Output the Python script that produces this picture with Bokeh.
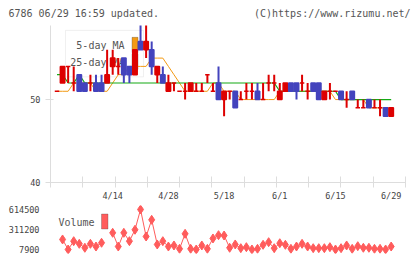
import numpy as np
from bokeh.plotting import figure
from bokeh.layouts import column, row
from bokeh.models import Range1d, FixedTicker, Label, BoxAnnotation, ColumnDataSource, BasicTickFormatter
from bokeh.embed import file_html
from bokeh.resources import INLINE

# ---------------- data ----------------
dates = ["3/31", "4/1", "4/4", "4/5", "4/6", "4/7", "4/8", "4/11", "4/12", "4/13",
         "4/14", "4/15", "4/18", "4/19", "4/20", "4/21", "4/22", "4/25", "4/26", "4/27",
         "4/28", "5/2", "5/6", "5/9", "5/10", "5/11", "5/12", "5/13", "5/16", "5/17",
         "5/18", "5/19", "5/20", "5/23", "5/24", "5/25", "5/26", "5/27", "5/30", "5/31",
         "6/1", "6/2", "6/3", "6/6", "6/7", "6/8", "6/9", "6/10", "6/13", "6/14",
         "6/15", "6/16", "6/17", "6/20", "6/21", "6/22", "6/23", "6/24", "6/27", "6/28",
         "6/29"]
opens = [51, 52, 54, 52, 53, 52, 52, 52, 52, 52,
         54, 54, 55, 54, 53, 57, 56, 56, 53, 53,
         51, 52, 51, 51, 51, 51, 51, 53, 51, 52,
         50, 51, 51, 50, 51, 51, 51, 50, 52, 52,
         50, 51, 52, 52, 52, 51, 52, 52, 50, 51,
         51, 51, 50, 51, 49, 49, 50, 49, 49, 49,
         48]
highs = [51, 54, 54, 54, 53, 52, 53, 53, 53, 56,
         56, 55, 55, 54, 56, 59, 59, 57, 54, 54,
         53, 52, 51, 52, 52, 52, 52, 53, 52, 54,
         51, 51, 51, 51, 52, 52, 52, 52, 53, 53,
         52, 52, 52, 52, 53, 52, 52, 52, 51, 52,
         51, 51, 51, 51, 50, 50, 50, 50, 50, 49,
         49]
lows = [51, 52, 52, 51, 51, 51, 51, 51, 51, 52,
        53, 53, 52, 52, 53, 56, 55, 53, 52, 52,
        51, 51, 51, 50, 51, 51, 51, 52, 51, 50,
        48, 50, 49, 50, 50, 50, 50, 50, 51, 51,
        50, 51, 51, 50, 51, 50, 51, 50, 50, 50,
        51, 50, 49, 50, 49, 49, 49, 49, 48, 48,
        48]
closes = [51, 54, 54, 52, 51, 51, 52, 51, 51, 53,
          55, 54, 53, 53, 56, 56, 57, 54, 54, 52,
          52, 52, 51, 51, 52, 51, 51, 53, 51, 50,
          51, 51, 49, 50, 51, 51, 50, 50, 52, 52,
          51, 52, 51, 51, 52, 51, 51, 50, 51, 51,
          51, 50, 50, 50, 49, 49, 49, 49, 49, 48,
          49]
ma5 = [51, 51, 51, 52, 52, 52, 52, 51, 51, 51,
       52, 53, 53, 54, 54, 54, 54, 55, 55, 55,
       54, 53, 52, 51, 51, 51, 51, 51, 52, 52,
       51, 51, 51, 50, 50, 50, 50, 50, 50, 50,
       51, 51, 51, 51, 51, 51, 51, 51, 51, 51,
       50, 50, 50, 50, 50, 50, 49, 49, 49, 49,
       49]
ma25 = [53, 53, 52, 52, 53, 52, 52, 52, 52, 52,
        52, 52, 52, 52, 52, 52, 52, 52, 52, 52,
        52, 52, 52, 52, 52, 52, 52, 52, 52, 52,
        52, 52, 52, 52, 52, 52, 52, 52, 52, 52,
        51, 51, 51, 51, 51, 51, 51, 51, 51, 51,
        51, 50, 50, 50, 50, 50, 50, 50, 50, 50,
        50]
volume = [np.nan, 160000, 7900, 134000, 94000, 34000, 94000, 53000, 110000, np.nan,
          261000, 53000, 261000, 134000, 307000, 614500, 205000, 458000, 84000, 134000,
          53000, 69000, 18000, 246000, 18000, 8000, 69000, 18000, 175000, 225000,
          220000, 34000, 84000, 28000, 43000, 8000, 18000, 79000, 119000, 28000,
          103000, 79000, 18000, 53000, 94000, 53000, 28000, 28000, 28000, 43000,
          8000, 28000, 69000, 18000, 58000, 34000, 34000, 18000, 18000, 8000,
          53000]
date_tick_labels = ["4/14", "4/28", "5/18", "6/1", "6/15", "6/29"]
price_ticks = [40, 50]
volume_ticks = [7900, 311200, 614500]

# ---------------- styles ----------------
FONT = "DejaVu Sans Mono"
RED = "#dd0000"
BLUE = "#4343bd"
ORANGE = "#f39a14"
GREEN = "#14aa14"
VOLC = "#ff5c5c"
GRID = "#dddddd"
TXT = "#555555"

n = len(dates)
idx = np.arange(n)
o = np.array(opens, float); c = np.array(closes, float)
colors = [RED if c[i] >= o[i] else BLUE for i in range(n)]
src = ColumnDataSource(dict(x=idx, o=o, c=c, h=highs, l=lows,
                            top=np.maximum(o, c), bot=np.minimum(o, c), col=colors,
                            ma5=ma5, ma25=ma25, vol=volume))

# layout (pixels of the page)
W = 420
HEAD = 25
FL, FR = 50, 405
PT, PB = 25, 184
H1 = 203 - HEAD
H2 = 56
x0, x1 = -1.167, 62.57
y0, y1 = 40, 58.93

def xd(px):
    return x0 + (px - FL) / (FR - FL) * (x1 - x0)

def yd(py):
    return y0 + (PB - py) / (PB - PT) * (y1 - y0)

# ---------------- header strip ----------------
ph = figure(width=W, height=HEAD, x_range=Range1d(0, W), y_range=Range1d(HEAD, 0),
            output_backend="svg", toolbar_location=None, x_axis_location=None,
            y_axis_location=None, min_border=0, min_border_left=0, min_border_right=0,
            min_border_top=0, min_border_bottom=0)
ph.grid.visible = False
ph.outline_line_color = None
ph.add_layout(Label(x=8, y=12.5, text="6786 06/29 16:59 updated.", text_font=FONT,
                    text_font_size="10px", text_color=TXT, text_baseline="middle", text_align="left"))
ph.add_layout(Label(x=410, y=12.5, text="(C)https://www.rizumu.net/", text_font=FONT,
                    text_font_size="10px", text_color=TXT, text_baseline="middle", text_align="right"))

# ---------------- price ----------------
p = figure(width=W, height=H1, x_range=Range1d(x0, x1), y_range=Range1d(y0, y1),
           output_backend="svg", toolbar_location=None,
           min_border_left=FL, min_border_right=W - FR, min_border_top=0,
           min_border_bottom=203 - PB)
p.xgrid.visible = False
p.ygrid.visible = False
p.outline_line_color = None
p.background_fill_color = "white"

tick_idx = [dates.index(d) for d in date_tick_labels]
minor = list(np.linspace(x0, x1, 12))
xa = p.xaxis[0]
xa.ticker = FixedTicker(ticks=tick_idx, minor_ticks=minor)
xa.major_label_overrides = {i: dates[i] for i in tick_idx}
xa.major_tick_in = 0
xa.major_tick_out = 0
xa.minor_tick_in = 6
xa.minor_tick_out = 5
xa.minor_tick_line_color = GRID
xa.axis_line_color = GRID
xa.major_label_standoff = 3
xa.major_label_text_font = FONT
xa.major_label_text_font_size = "8.5px"
xa.major_label_text_color = "#444444"

ya = p.yaxis[0]
ya.ticker = FixedTicker(ticks=price_ticks)
ya.major_tick_in = 3
ya.major_tick_out = 5
ya.major_tick_line_color = GRID
ya.axis_line_color = GRID
ya.major_label_standoff = 5
ya.major_label_text_font = FONT
ya.major_label_text_font_size = "8.5px"
ya.major_label_text_color = "#444444"

# legend (under the candles)
p.add_layout(BoxAnnotation(left=xd(65), right=xd(143), top=yd(30), bottom=yd(77),
                           fill_color="white", fill_alpha=1.0, line_color="#cccccc", line_width=1,
                           level="underlay"))
p.add_layout(Label(x=xd(124), y=yd(45.5), text="5-day MA", text_font=FONT, text_font_size="10px",
                   text_color=TXT, text_baseline="middle", text_align="right", level="underlay"))
p.add_layout(Label(x=xd(124), y=yd(62), text="25-day MA", text_font=FONT, text_font_size="10px",
                   text_color=TXT, text_baseline="middle", text_align="right", level="underlay"))
p.add_layout(BoxAnnotation(left=xd(131.5), right=xd(137.5), top=yd(37), bottom=yd(52.5),
                           fill_color=ORANGE, fill_alpha=1, line_color="#444444", line_width=1,
                           level="underlay"))
p.add_layout(BoxAnnotation(left=xd(131.5), right=xd(137.5), top=yd(53.5), bottom=yd(69.5),
                           fill_color=GREEN, fill_alpha=1, line_color="#444444", line_width=1,
                           level="underlay"))

p.line("x", "ma5", source=src, color=ORANGE, line_width=1)
p.line("x", "ma25", source=src, color=GREEN, line_width=1.2)
p.segment(x0="x", y0="l", x1="x", y1="h", source=src, color="col", line_width=2)
p.vbar(x="x", top="top", bottom="bot", width=0.8, source=src, fill_color="col",
       line_color="col", line_width=1.5)

# ---------------- volume ----------------
VT, VB = 205, 253
v_lo_px, v_hi_px = 249, 209
per_px = (volume_ticks[-1] - volume_ticks[0]) / (v_lo_px - v_hi_px)
vy0 = volume_ticks[0] - (VB - v_lo_px) * per_px
vy1 = volume_ticks[-1] + (v_hi_px - VT) * per_px

def vd(py):
    return volume_ticks[0] + (v_lo_px - py) * per_px

p2 = figure(width=W, height=H2, x_range=p.x_range, y_range=Range1d(vy0, vy1),
            output_backend="svg", toolbar_location=None, x_axis_location=None,
            min_border_left=FL, min_border_right=W - FR, min_border_top=VT - 203,
            min_border_bottom=259 - VB)
p2.xgrid.visible = False
p2.ygrid.visible = False
p2.outline_line_color = None
va = p2.yaxis[0]
va.ticker = FixedTicker(ticks=volume_ticks)
va.formatter = BasicTickFormatter(use_scientific=False)
va.axis_line_color = None
va.major_tick_line_color = None
va.minor_tick_line_color = None
va.major_label_standoff = 5
va.major_label_text_font = FONT
va.major_label_text_font_size = "8.5px"
va.major_label_text_color = "#444444"

p2.add_layout(Label(x=xd(58), y=vd(222), text="Volume", text_font=FONT, text_font_size="10px",
                    text_color=TXT, text_baseline="middle", text_align="left", level="underlay"))
p2.add_layout(BoxAnnotation(left=xd(101), right=xd(107.5), top=vd(213.5), bottom=vd(228.5),
                            fill_color=VOLC, fill_alpha=1, line_color="#444444", line_width=1,
                            level="underlay"))

p2.line("x", "vol", source=src, color=VOLC, line_width=1)
p2.scatter("x", "vol", source=src, marker="diamond", size=9, color=VOLC)

lay = column(row(ph, spacing=0), p, p2, spacing=0)
open("out.html", "w").write(file_html(lay, INLINE))
